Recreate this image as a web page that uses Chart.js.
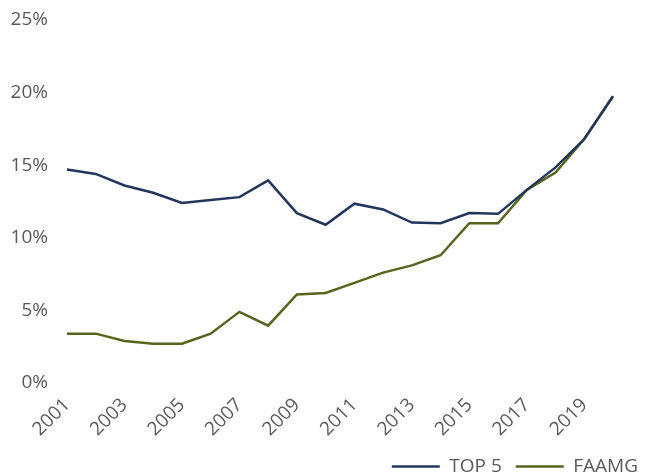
<!DOCTYPE html>
<html>
<head>
<meta charset="utf-8">
<script src="https://cdn.jsdelivr.net/npm/chart.js@4"></script>
<style>
	html, body { margin: 0; padding: 0; background: #ffffff; }
	#wrap { width: 645px; height: 476px; }
</style>
</head>
<body>
<div id="wrap"><canvas id="chart" width="645" height="476"></canvas></div>
<script>
// Share of market, in %
var years = ["2001","2002","2003","2004","2005","2006","2007","2008","2009","2010",
	"2011","2012","2013","2014","2015","2016","2017","2018","2019","2020"];
var top5 = [14.7, 14.4, 13.6, 13.1, 12.4, 12.6, 12.8, 13.95, 11.7, 10.9,
	12.35, 11.95, 11.05, 11.0, 11.7, 11.65, 13.3, 14.85, 16.8, 19.75];
var faamg = [3.4, 3.4, 2.9, 2.7, 2.7, 3.4, 4.9, 3.95, 6.1, 6.2,
	6.9, 7.6, 8.1, 8.8, 11.0, 11.0, 13.3, 14.5, 16.8, 19.75];
var yTicks = [0, 5, 10, 15, 20, 25];

var navy = "#22365c";
var olive = "#56651e";
var grey = "#595959";
var fontFamily = "'Open Sans'";

window.addEventListener("load", function() {
	var ctx = document.getElementById("chart");
	var chart = new Chart(ctx, {
		type: "line",
		data: {
			labels: years,
			datasets: [{
				label: "TOP 5",
				data: top5,
				borderColor: navy,
				backgroundColor: navy,
				borderWidth: 2.5,
				pointRadius: 0,
				tension: 0
			}, {
				label: "FAAMG",
				data: faamg,
				borderColor: olive,
				backgroundColor: olive,
				borderWidth: 2.5,
				pointRadius: 0,
				tension: 0
			}]
		},
		options: {
			responsive: false,
			animation: false,
			// negative right/bottom padding pushes the legend into the corner
			layout: { padding: { left: 8, right: -7, top: 20, bottom: -10 } },
			plugins: {
				tooltip: { enabled: false },
				legend: {
					position: "bottom",
					align: "end",
					labels: {
						usePointStyle: true,
						pointStyle: "line",
						pointStyleWidth: 48,
						color: grey,
						font: { family: fontFamily, size: 19 },
						padding: 14
					}
				}
			},
			scales: {
				x: {
					grid: { display: false },
					border: { display: false },
					afterFit: function(axis) {
						// keep the plot edges where the reference has them
						axis.paddingLeft = 0;
						axis.paddingRight = 32;
						axis.height = 60;
					},
					ticks: {
						autoSkip: false,
						minRotation: 45,
						maxRotation: 45,
						color: grey,
						font: { family: fontFamily, size: 19 },
						callback: function(value, index) {
							return index % 2 === 0 ? years[index] : "";
						}
					}
				},
				y: {
					min: 0,
					max: 25,
					grid: { display: false, drawTicks: false },
					border: { display: false },
					afterBuildTicks: function(axis) {
						axis.ticks = yTicks.map(function(v) { return { value: v }; });
					},
					afterFit: function(axis) {
						axis.width = 59;
						axis.paddingTop = 0;
						axis.paddingBottom = 0;
					},
					ticks: {
						padding: 19,
						color: grey,
						font: { family: fontFamily, size: 19 },
						callback: function(value) { return value + "%"; }
					}
				}
			}
		}
	});
});
</script>
</body>
</html>
